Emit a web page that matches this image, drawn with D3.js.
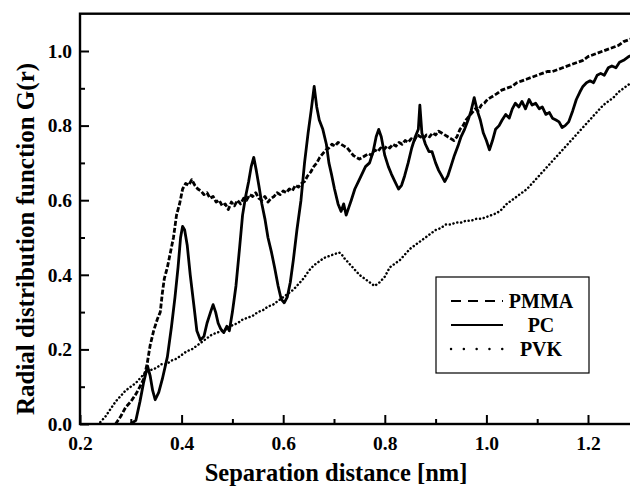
<!DOCTYPE html>
<html lang="en">
<head>
<meta charset="utf-8">
<style>
  body { margin: 0; background: white; }
  svg { background: white; }
  .axis line { stroke: black; stroke-width: 2; }
  .axis path { display: none; }
</style>
</head>
<body>
<svg width="630" height="491"></svg>
<script src="https://d3js.org/d3.v7.min.js"></script>
<script>
// separation distance [nm] / G(r)
const pcX = [0.300,0.310,0.318,0.325,0.333,0.338,0.343,0.348,0.355,0.362,0.372,0.380,0.387,0.393,0.398,0.402,0.406,0.411,0.417,0.424,
  0.430,0.437,0.444,0.450,0.457,0.462,0.467,0.472,0.477,0.483,0.489,0.494,0.500,0.507,0.514,0.520,0.526,0.532,0.537,0.542,
  0.547,0.552,0.558,0.564,0.570,0.577,0.583,0.590,0.596,0.602,0.608,0.614,0.620,0.627,0.635,0.642,0.649,0.655,0.661,0.666,
  0.671,0.678,0.685,0.690,0.695,0.701,0.708,0.714,0.719,0.724,0.729,0.734,0.741,0.748,0.755,0.762,0.770,0.777,0.783,0.788,
  0.793,0.800,0.807,0.813,0.820,0.827,0.833,0.839,0.846,0.853,0.860,0.866,0.869,0.873,0.880,0.887,0.893,0.900,0.906,0.912,
  0.918,0.924,0.930,0.937,0.944,0.950,0.957,0.964,0.970,0.976,0.982,0.988,0.994,1.000,1.006,1.012,1.018,1.025,1.031,1.038,
  1.045,1.051,1.057,1.064,1.070,1.077,1.084,1.090,1.097,1.104,1.110,1.117,1.124,1.130,1.137,1.143,1.149,1.155,1.162,1.170,
  1.177,1.184,1.190,1.197,1.204,1.211,1.218,1.225,1.232,1.240,1.247,1.255,1.262,1.270,1.280,1.290]
const pcY = [0.000,0.010,0.060,0.110,0.155,0.130,0.090,0.065,0.085,0.120,0.180,0.260,0.340,0.420,0.500,0.530,0.520,0.480,0.400,0.320,
  0.250,0.225,0.235,0.270,0.300,0.320,0.300,0.270,0.255,0.245,0.262,0.250,0.300,0.370,0.470,0.560,0.610,0.650,0.690,0.715,
  0.680,0.640,0.590,0.550,0.500,0.460,0.420,0.370,0.335,0.325,0.340,0.380,0.440,0.520,0.600,0.700,0.780,0.840,0.905,0.850,
  0.815,0.790,0.750,0.700,0.670,0.630,0.590,0.570,0.590,0.560,0.580,0.600,0.630,0.650,0.670,0.690,0.700,0.730,0.770,0.790,
  0.770,0.720,0.690,0.670,0.650,0.630,0.640,0.665,0.700,0.740,0.770,0.790,0.855,0.780,0.750,0.730,0.730,0.700,0.680,0.665,
  0.650,0.665,0.690,0.720,0.745,0.770,0.790,0.815,0.840,0.875,0.840,0.815,0.780,0.760,0.735,0.760,0.790,0.800,0.815,0.830,
  0.820,0.845,0.860,0.850,0.865,0.845,0.870,0.855,0.860,0.845,0.850,0.830,0.835,0.820,0.815,0.810,0.795,0.800,0.810,0.840,
  0.870,0.890,0.905,0.915,0.920,0.915,0.935,0.940,0.935,0.955,0.960,0.955,0.970,0.975,0.985,0.990]

const pmmaX = [0.270,0.280,0.290,0.300,0.310,0.318,0.325,0.332,0.338,0.345,0.352,0.358,0.362,0.366,0.372,0.378,0.384,0.390,0.396,0.402,
  0.408,0.414,0.420,0.426,0.432,0.438,0.444,0.450,0.456,0.462,0.468,0.474,0.480,0.486,0.492,0.498,0.504,0.510,0.516,0.522,
  0.528,0.534,0.540,0.546,0.552,0.558,0.564,0.570,0.576,0.582,0.588,0.594,0.600,0.606,0.612,0.618,0.624,0.630,0.636,0.642,
  0.648,0.654,0.660,0.666,0.672,0.678,0.684,0.690,0.696,0.702,0.708,0.714,0.720,0.726,0.732,0.738,0.744,0.750,0.756,0.762,
  0.768,0.774,0.780,0.786,0.792,0.798,0.804,0.810,0.816,0.822,0.828,0.834,0.840,0.846,0.852,0.858,0.864,0.870,0.876,0.882,
  0.888,0.894,0.900,0.906,0.912,0.918,0.924,0.930,0.936,0.942,0.948,0.954,0.960,0.966,0.972,0.978,0.984,0.990,0.996,1.002,
  1.008,1.014,1.020,1.030,1.040,1.050,1.060,1.070,1.080,1.090,1.100,1.110,1.120,1.130,1.140,1.150,1.160,1.170,1.180,1.190,
  1.200,1.210,1.220,1.230,1.240,1.250,1.260,1.270,1.280,1.290]
const pmmaY = [0.000,0.020,0.045,0.060,0.080,0.100,0.120,0.160,0.210,0.250,0.280,0.300,0.350,0.390,0.420,0.460,0.500,0.560,0.590,0.630,
  0.645,0.640,0.655,0.640,0.630,0.625,0.615,0.620,0.605,0.610,0.595,0.600,0.585,0.590,0.575,0.595,0.585,0.600,0.590,0.605,
  0.600,0.615,0.610,0.620,0.605,0.600,0.610,0.595,0.605,0.610,0.620,0.615,0.625,0.620,0.630,0.625,0.640,0.635,0.645,0.650,
  0.665,0.675,0.690,0.700,0.715,0.725,0.735,0.740,0.750,0.745,0.755,0.750,0.745,0.740,0.730,0.720,0.715,0.710,0.715,0.720,
  0.725,0.720,0.735,0.730,0.740,0.735,0.745,0.740,0.750,0.745,0.755,0.750,0.760,0.755,0.765,0.760,0.775,0.770,0.765,0.775,
  0.770,0.780,0.775,0.785,0.780,0.775,0.770,0.765,0.760,0.770,0.790,0.800,0.815,0.825,0.835,0.845,0.840,0.855,0.860,0.870,
  0.875,0.880,0.885,0.895,0.900,0.905,0.915,0.920,0.925,0.930,0.935,0.940,0.945,0.945,0.950,0.955,0.960,0.965,0.970,0.975,
  0.985,0.990,0.995,1.000,1.005,1.010,1.015,1.025,1.030,1.035]

const pvkX = [0.240,0.250,0.260,0.270,0.280,0.290,0.300,0.310,0.320,0.330,0.340,0.350,0.360,0.370,0.380,0.390,0.400,0.410,0.420,0.430,
  0.440,0.450,0.460,0.470,0.480,0.490,0.500,0.510,0.520,0.530,0.540,0.550,0.560,0.570,0.580,0.590,0.600,0.610,0.620,0.630,
  0.640,0.650,0.660,0.670,0.680,0.690,0.700,0.710,0.715,0.720,0.730,0.740,0.750,0.760,0.770,0.780,0.790,0.800,0.810,0.820,
  0.830,0.840,0.850,0.860,0.870,0.880,0.890,0.900,0.910,0.920,0.930,0.940,0.950,0.960,0.970,0.980,0.990,1.000,1.010,1.020,
  1.030,1.040,1.050,1.060,1.070,1.080,1.090,1.100,1.110,1.120,1.130,1.140,1.150,1.160,1.170,1.180,1.190,1.200,1.210,1.220,
  1.230,1.240,1.250,1.260,1.270,1.280,1.290]
const pvkY = [0.005,0.020,0.040,0.060,0.075,0.090,0.100,0.110,0.125,0.140,0.145,0.150,0.160,0.160,0.170,0.175,0.185,0.195,0.200,0.210,
  0.220,0.230,0.240,0.245,0.250,0.255,0.265,0.270,0.280,0.285,0.290,0.300,0.305,0.315,0.320,0.330,0.340,0.350,0.360,0.375,
  0.390,0.410,0.425,0.435,0.445,0.450,0.455,0.460,0.455,0.445,0.430,0.415,0.400,0.390,0.380,0.370,0.380,0.395,0.420,0.430,
  0.440,0.455,0.470,0.480,0.490,0.500,0.510,0.520,0.525,0.535,0.535,0.540,0.540,0.545,0.545,0.550,0.550,0.555,0.560,0.565,
  0.575,0.590,0.600,0.610,0.620,0.630,0.645,0.660,0.675,0.690,0.705,0.720,0.735,0.750,0.765,0.780,0.795,0.810,0.825,0.840,
  0.855,0.865,0.875,0.890,0.900,0.910,0.920]

const xMajor = [0.2, 0.4, 0.6, 0.8, 1.0, 1.2]
const xMinor = [0.3, 0.5, 0.7, 0.9, 1.1]
const yMajor = [0.0, 0.2, 0.4, 0.6, 0.8, 1.0]
const yMinor = [0.1, 0.3, 0.5, 0.7, 0.9]

const seriesNames = ["PMMA", "PC", "PVK"]

const FONT = "'Liberation Serif', 'Times New Roman', serif"
const margin = { top: 13.7, left: 80, bottom: 424 }
const x = d3.scaleLinear().domain([0.2, 1.3]).range([margin.left, margin.left + 1.1 * 508])
const y = d3.scaleLinear().domain([0, 1.1]).range([margin.bottom, margin.top])

const svg = d3.select("svg")

svg.append("defs").append("clipPath").attr("id", "plot")
  .append("rect")
  .attr("x", x(0.2)).attr("y", y(1.1))
  .attr("width", x(1.3) - x(0.2)).attr("height", y(0) - y(1.1))

const line = d3.line()
  .x(function (d) { return x(d[0]) })
  .y(function (d) { return y(d[1]) })

const zip = (xs, ys) => xs.map((v, i) => [v, ys[i]])

const series = [
  { name: seriesNames[0], data: zip(pmmaX, pmmaY), width: 2.8, dash: "5,2", cap: "butt" },
  { name: seriesNames[1], data: zip(pcX, pcY), width: 2.8, dash: null, cap: "butt" },
  { name: seriesNames[2], data: zip(pvkX, pvkY), width: 2.5, dash: "0.1,3.8", cap: "round" }
]

const g = svg.append("g").attr("clip-path", "url(#plot)")
g.selectAll("path.series")
  .data(series)
  .enter()
  .append("path")
  .attr("class", "series")
  .attr("fill", "none")
  .attr("stroke", "black")
  .attr("stroke-width", d => d.width)
  .attr("stroke-dasharray", d => d.dash)
  .attr("stroke-linecap", d => d.cap)
  .attr("stroke-linejoin", "round")
  .attr("d", d => line(d.data))

// axes, ticks pointing inward
svg.append("g")
  .attr("class", "axis x")
  .attr("transform", "translate(0," + margin.bottom + ")")
  .call(d3.axisBottom(x).tickValues(xMajor).tickSize(-9).tickPadding(12).tickFormat(d3.format(".1f")))
svg.append("g")
  .attr("class", "axis x")
  .attr("transform", "translate(0," + margin.bottom + ")")
  .call(d3.axisBottom(x).tickValues(xMinor).tickSize(-5).tickFormat(""))

svg.append("g")
  .attr("class", "axis y")
  .attr("transform", "translate(" + margin.left + ",0)")
  .call(d3.axisLeft(y).tickValues(yMajor).tickSize(-9).tickPadding(8).tickFormat(d3.format(".1f")))
svg.append("g")
  .attr("class", "axis y")
  .attr("transform", "translate(" + margin.left + ",0)")
  .call(d3.axisLeft(y).tickValues(yMinor).tickSize(-5).tickFormat(""))

svg.selectAll(".axis text")
  .style("font-family", FONT)
  .style("font-weight", "bold")
  .style("font-size", "19.5px")
  .attr("fill", "black")

// frame
svg.append("rect")
  .attr("x", x(0.2)).attr("y", y(1.1))
  .attr("width", x(1.3) - x(0.2)).attr("height", y(0) - y(1.1))
  .attr("fill", "none").attr("stroke", "black").attr("stroke-width", 2.4)

svg.append("text")
  .attr("x", 336).attr("y", 481)
  .attr("text-anchor", "middle")
  .style("font-family", FONT).style("font-weight", "bold").style("font-size", "24.5px")
  .text("Separation distance [nm]")

svg.append("text")
  .attr("transform", "translate(34,239) rotate(-90)")
  .attr("text-anchor", "middle")
  .style("font-family", FONT).style("font-weight", "bold").style("font-size", "25px")
  .text("Radial distribution function G(r)")

// legend
const legend = svg.append("g").attr("class", "legend")
legend.append("rect")
  .attr("x", 436).attr("y", 277).attr("width", 153).attr("height", 96)
  .attr("fill", "white").attr("stroke", "black").attr("stroke-width", 1.2)

const legendDash = { PMMA: "10,7", PC: null, PVK: "0.1,12.7" }
const rows = legend.selectAll("g.row")
  .data(series)
  .enter()
  .append("g")
  .attr("class", "row")
  .attr("transform", (d, i) => "translate(0," + (301 + i * 24) + ")")
rows.append("line")
  .attr("x1", 451).attr("x2", 503)
  .attr("stroke", "black")
  .attr("stroke-width", d => d.name === "PVK" ? 2.4 : 2)
  .attr("stroke-dasharray", d => legendDash[d.name])
  .attr("stroke-linecap", d => d.cap)
rows.append("text")
  .attr("x", 541).attr("y", 6.5)
  .attr("text-anchor", "middle")
  .style("font-family", FONT).style("font-weight", "bold").style("font-size", "20px")
  .text(d => d.name)
</script>
</body>
</html>
